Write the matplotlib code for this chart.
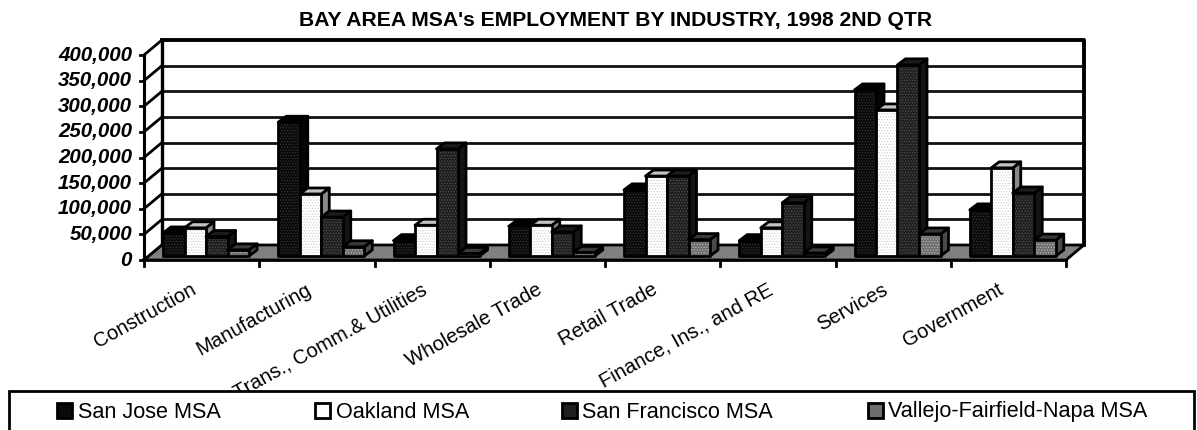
import matplotlib
matplotlib.use("Agg")
import matplotlib.pyplot as plt
from matplotlib.patches import Polygon, Rectangle

plt.rcParams['font.family'] = ['Liberation Sans', 'DejaVu Sans']
plt.rcParams['hatch.linewidth'] = 0.5

categories = ["Construction", "Manufacturing", "Trans., Comm.& Utilities", "Wholesale Trade",
              "Retail Trade", "Finance, Ins., and RE", "Services", "Government"]
san_jose = [45000, 261000, 30000, 58000, 129000, 30000, 324000, 90000]
oakland = [55000, 121000, 60000, 60000, 156000, 55000, 285000, 172000]
san_francisco = [38000, 76000, 209000, 47000, 156000, 104000, 373000, 123000]
vallejo = [12000, 18000, 5000, 7000, 32000, 6000, 43000, 31000]
series_names = ["San Jose MSA", "Oakland MSA", "San Francisco MSA", "Vallejo-Fairfield-Napa MSA"]
y_ticks = [0, 50000, 100000, 150000, 200000, 250000, 300000, 350000, 400000]

W, H = 1197, 430
fig = plt.figure(figsize=(W / 100, H / 100), dpi=100)
# front plane of the fake 3D box
ax = fig.add_axes([144 / W, 1 - 260 / H, 922 / W, 205 / H])
ax.set_xlim(0, 8)
ax.set_ylim(0, 400000)
ax.axis("off")

ux = 8 / 922  # data units per pixel
uy = 400000 / 205


def offs(x, y, dx, dy):
    return (x + dx * ux, y + dy * uy)


def poly(pts, fc, ec="black", lw=2.0, z=2, hatch=None):
    p = Polygon(pts, closed=True, facecolor=fc, edgecolor=ec, linewidth=lw, zorder=z,
                clip_on=False, hatch=hatch, joinstyle="round")
    ax.add_patch(p)


DX, DY = 18, 15
# floor
poly([(0, 0), (8, 0), offs(8, 0, DX, DY), offs(0, 0, DX, DY)], "#808080", lw=2)
# walls and gridlines
ax.plot([offs(0, 400000, DX, DY)[0], offs(8, 400000, DX, DY)[0], offs(8, 0, DX, DY)[0]],
        [offs(0, 400000, DX, DY)[1], offs(8, 400000, DX, DY)[1], offs(8, 0, DX, DY)[1]],
        color="black", lw=2.8, clip_on=False, zorder=1.5)
ax.plot([offs(0, 0, DX, DY)[0]] * 2, [offs(0, 0, DX, DY)[1], offs(0, 400000, DX, DY)[1]],
        color="black", lw=2.4, clip_on=False, zorder=1.5)
for v in y_ticks:
    bx, by = offs(0, v, DX, DY)
    if 0 < v < 400000:
        ax.plot([bx, offs(8, v, DX, DY)[0]], [by, by], color="#111111", lw=2, clip_on=False, zorder=1)
    ax.plot([0, bx], [v, by], color="black", lw=2, clip_on=False, zorder=1.6)
    ax.plot([-4 * ux, 0], [v, v], color="black", lw=2, clip_on=False, zorder=1.6)
    ax.text(-12 * ux, v, f"{v:,}", ha="right", va="center", fontsize=14.8, fontweight="bold",
            fontstyle="italic", clip_on=False)
ax.plot([0, 0], [0, 400000], color="black", lw=2.2, clip_on=False, zorder=1.6)
ax.plot([0, 8], [0, 0], color="black", lw=2.6, clip_on=False, zorder=1.6)
for i in range(9):
    ax.plot([i, i], [0, -6 * uy], color="black", lw=2, clip_on=False, zorder=1.6)

# bars, drawn left to right so the next bar hides the side of the last
series = [san_jose, oakland, san_francisco, vallejo]
styles = [("#0a0a0a", "#3a3a3a", "#000000", "#050505"),
          ("#ffffff", "#cccccc", "#c4c4c4", "#8a8a8a"),
          ("#202020", "#555555", "#1c1c1c", "#141414"),
          ("#6e6e6e", "#c0c0c0", "#3a3a3a", "#4a4a4a")]
BW = 21.5 * ux
GAP = 19 * ux
BASE = 4 * uy
BDX, BDY = 8, 6
for i in range(len(categories)):
    for s, vals in enumerate(series):
        fc, hc, top, side = styles[s]
        x0 = i + GAP + s * BW
        x1 = x0 + BW
        y0 = BASE
        y1 = BASE + vals[i]
        z = 3 + i * 4 + s
        poly([(x1, y0), offs(x1, y0, BDX, BDY), offs(x1, y1, BDX, BDY), (x1, y1)], side, z=z)
        poly([(x0, y1), (x1, y1), offs(x1, y1, BDX, BDY), offs(x0, y1, BDX, BDY)], top, z=z)
        p = Polygon([(x0, y0), (x1, y0), (x1, y1), (x0, y1)], closed=True, facecolor=fc, edgecolor=hc,
                    linewidth=0, hatch="......", zorder=z, clip_on=False)
        ax.add_patch(p)
        poly([(x0, y0), (x1, y0), (x1, y1), (x0, y1)], "none", z=z)
    ax.annotate(categories[i], xy=(i + 0.5, 0), xytext=(-11, -20), textcoords="offset pixels",
                xycoords="data", ha="right", va="top", rotation=29, rotation_mode="anchor",
                fontsize=14.6, annotation_clip=False, zorder=1)

fig.text(615.5 / W, 1 - 20 / H, "BAY AREA MSA's EMPLOYMENT BY INDUSTRY, 1998 2ND QTR", ha="center",
         va="center", fontsize=15.2, fontweight="bold")

# legend box sits over the long category labels, bottom edge runs off the canvas
fig.patches.append(Rectangle((9 / W, 1 - 434 / H), 1185 / W, 43 / H, transform=fig.transFigure,
                             facecolor="white", edgecolor="black", linewidth=2, zorder=20))
legend_x = [57, 315, 562, 868]
legend_fc = ["#0a0a0a", "#ffffff", "#202020", "#6e6e6e"]
for name, lx, fc in zip(series_names, legend_x, legend_fc):
    fig.patches.append(Rectangle((lx / W, 1 - 418 / H), 15 / W, 15 / H, transform=fig.transFigure,
                                 facecolor=fc, edgecolor="black", linewidth=2, zorder=21))
    fig.text((lx + 20.5) / W, 1 - 412 / H, name, ha="left", va="center", fontsize=15.6, zorder=22)

fig.savefig("out.png", dpi=100)
